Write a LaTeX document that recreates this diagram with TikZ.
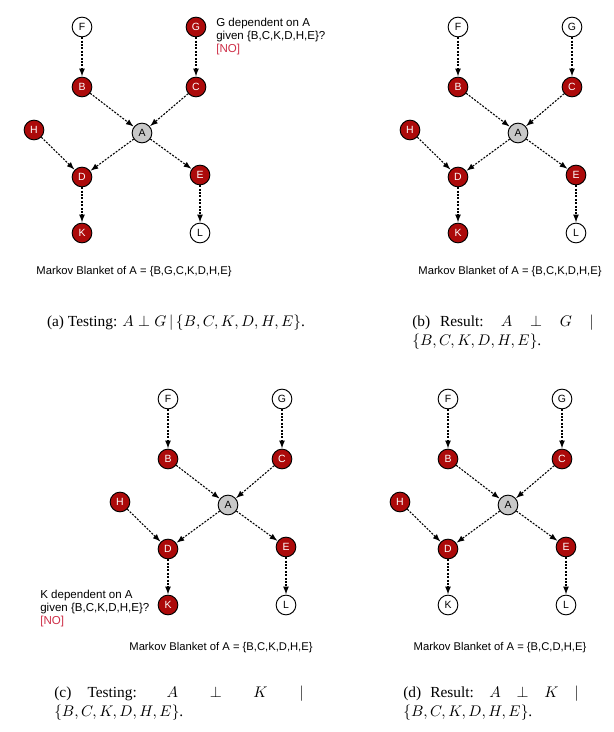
\documentclass[tikz,border=0pt]{standalone}
\usepackage{fontspec}
\setmainfont{Liberation Serif}
\setsansfont{Liberation Sans}
\usepackage{amsmath}
\usepackage{amssymb}
\usetikzlibrary{calc}

\definecolor{mbred}{RGB}{172,10,10}
\definecolor{mbgray}{RGB}{200,200,200}
\definecolor{nored}{RGB}{205,45,70}

\tikzset{
  var/.style={circle,draw=black,line width=0.6pt,minimum size=12.8pt,inner sep=0pt,
    font=\fontsize{6.8}{7.5}\selectfont\sffamily},
  dep/.style={-latex,line width=0.7pt,dash pattern=on 1.3pt off 0.9pt,shorten >=0.3pt},
  note/.style={font=\fontsize{7.5}{8.5}\selectfont\sffamily,align=left,inner sep=0pt},
  blanket/.style={font=\fontsize{7.3}{8.5}\selectfont\sffamily,inner sep=0pt},
  subcap/.style={font=\fontsize{10}{12}\selectfont,inner sep=0pt}
}

\begin{document}
\begin{tikzpicture}[x=0.65pt,y=-0.65pt]
  \useasboundingbox (0,0) rectangle (613,732);

  % one panel per entry: name / shift / colours of G and K
  \foreach \p/\dx/\dy/\gf/\gt/\kf/\kt in {a/0/0/mbred/white/mbred/white,
                                         b/376/0/white/black/mbred/white,
                                         c/86/372/white/black/mbred/white,
                                         d/366/372/white/black/white/black}
  {
    \begin{scope}[shift={(\dx,\dy)}]
      \node [var,fill=white] (\p F) at (82,27) {F};
      \node [var,fill=\gf,text=\gt] (\p G) at (196,27) {G};
      \node [var,fill=mbred,text=white] (\p B) at (82,87) {B};
      \node [var,fill=mbred,text=white] (\p C) at (196,87) {C};
      \node [var,fill=mbgray] (\p A) at (142,133) {A};
      \node [var,fill=mbred,text=white] (\p H) at (34,130) {H};
      \node [var,fill=mbred,text=white] (\p D) at (82,177) {D};
      \node [var,fill=mbred,text=white] (\p E) at (200,175) {E};
      \node [var,fill=\kf,text=\kt] (\p K) at (82,233) {K};
      \node [var,fill=white] (\p L) at (200,233) {L};

      \foreach \s/\t in {F/B, G/C, B/A, C/A, A/D, A/E, H/D, D/K, E/L}
               {
                 \draw [dep] (\p\s) -- (\p\t);
               }
    \end{scope}
  }

  % questions
  \node [note,anchor=north west] (qa) at (216,18)
        {G dependent on A\\ given \{B,C,K,D,H,E\}?\\ \textcolor{nored}{[NO]}};
  \node [note,anchor=north west] (qc) at (40,590)
        {K dependent on A\\ given \{B,C,K,D,H,E\}?\\ \textcolor{nored}{[NO]}};

  % blankets
  \node [blanket] (mba) at (134,272) {Markov Blanket of A = \{B,G,C,K,D,H,E\}};
  \node [blanket] (mbb) at (510,272) {Markov Blanket of A = \{B,C,K,D,H,E\}};
  \node [blanket] (mbc) at (221,648) {Markov Blanket of A = \{B,C,K,D,H,E\}};
  \node [blanket] (mbd) at (500,648) {Markov Blanket of A = \{B,C,D,H,E\}};

  % captions
  \node [subcap,anchor=north] (capa) at (176,315)
        {(a) Testing: $A \perp G \,|\, \{B,C,K,D,H,E\}$.};
  \node [subcap,anchor=north west,text width=118pt,align=justify] (capb) at (412,315)
        {(b) Result: $A \perp G \mid$ \linebreak $\{B,C,K,D,H,E\}$.};
  \node [subcap,anchor=north west,text width=162pt,align=justify] (capc) at (54,686)
        {(c) Testing: $A \perp K \mid$ \linebreak $\{B,C,K,D,H,E\}$.};
  \node [subcap,anchor=north west,text width=114pt,align=justify] (capd) at (403,686)
        {(d) Result: $A \perp K \mid$ \linebreak $\{B,C,K,D,H,E\}$.};
\end{tikzpicture}
\end{document}
